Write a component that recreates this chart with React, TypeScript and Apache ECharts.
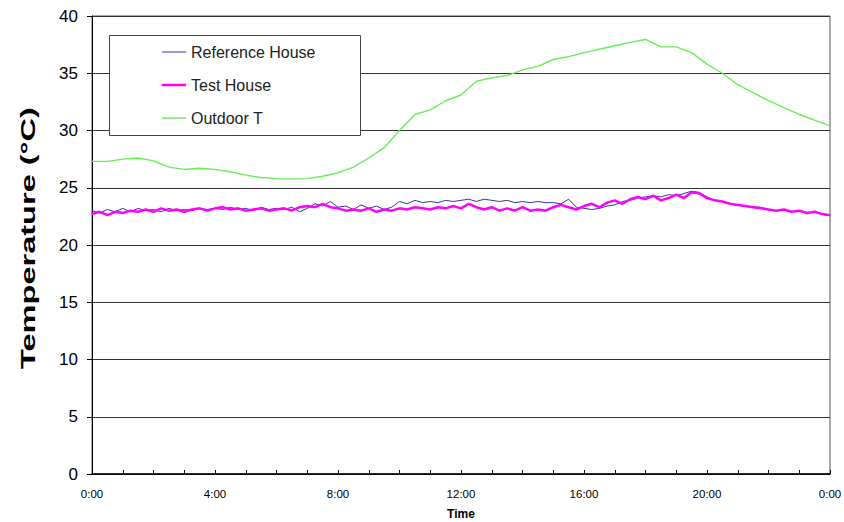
import React, { useEffect, useRef } from "react";
import * as echarts from "echarts";

// Reference House, every 15 minutes from 0:00 to 24:00 (grouped by hour)
const referenceHouse: number[] = [
  23.0, 22.8, 23.1, 22.9,
  23.2, 22.9, 23.2, 23.0,
  23.1, 22.9, 23.2, 23.0,
  23.1, 23.0, 23.2, 23.1,
  23.2, 23.1, 23.3, 23.1,
  23.2, 23.0, 23.3, 23.1,
  23.2, 23.1, 23.3, 22.9,
  23.2, 23.6, 23.4, 23.8,
  23.3, 23.4, 23.1, 23.5,
  23.2, 23.4, 23.1, 23.3,
  23.8, 23.6, 23.9, 23.7,
  23.8, 23.7, 23.9, 23.8,
  23.9, 24.0, 23.8, 24.0,
  23.9, 23.8, 23.9, 23.7,
  23.8, 23.7, 23.8, 23.7,
  23.7, 23.6, 24.0, 23.3,
  23.2, 23.1, 23.2, 23.4,
  23.5, 23.8, 23.9, 24.1,
  24.2, 24.3, 24.2, 24.4,
  24.3, 24.5, 24.7, 24.6,
  24.2, 23.9, 23.8, 23.6,
  23.5, 23.4, 23.3, 23.3,
  23.1, 23.0, 23.1, 22.9,
  23.0, 22.8, 22.9, 22.7,
  22.6,
];

// Test House, every 15 minutes
const testHouse: number[] = [
  22.7, 22.9, 22.6, 22.9,
  22.8, 23.0, 22.9, 23.1,
  22.9, 23.2, 23.0, 23.1,
  22.9, 23.1, 23.2, 23.0,
  23.2, 23.3, 23.1, 23.2,
  23.0, 23.1, 23.2, 23.0,
  23.1, 23.2, 23.0, 23.3,
  23.4, 23.3, 23.6, 23.3,
  23.2, 23.0, 23.1, 23.0,
  23.2, 22.9, 23.1, 23.0,
  23.2, 23.1, 23.3, 23.2,
  23.1, 23.3, 23.2, 23.4,
  23.2, 23.6, 23.3, 23.1,
  23.3, 23.0, 23.2, 23.0,
  23.3, 23.0, 23.1, 23.0,
  23.3, 23.5, 23.3, 23.1,
  23.4, 23.6, 23.3, 23.7,
  23.9, 23.6, 24.0, 24.2,
  24.0, 24.3, 23.9, 24.1,
  24.4, 24.1, 24.6, 24.5,
  24.1, 23.9, 23.8, 23.6,
  23.5, 23.4, 23.3, 23.2,
  23.1, 23.0, 23.1, 22.9,
  23.0, 22.8, 22.9, 22.7,
  22.6,
];

// Outdoor T, every 30 minutes
const outdoorT: number[] = [
  27.3, 27.3, 27.5, 27.6, 27.35, 26.8, 26.6, 26.7,
  26.6, 26.4, 26.1, 25.9, 25.8, 25.75, 25.8, 26.0,
  26.3, 26.8, 27.6, 28.5, 30.0, 31.4, 31.8, 32.6,
  33.1, 34.3, 34.6, 34.8, 35.3, 35.6, 36.2, 36.45,
  36.8, 37.1, 37.4, 37.7, 37.95, 37.3, 37.3, 36.8,
  35.8, 35.0, 34.0, 33.3, 32.6, 32.0, 31.4, 30.9,
  30.4,
];

const seriesNames = ["Reference House", "Test House", "Outdoor T"];
const xLabelHours = [0, 4, 8, 12, 16, 20, 24];
const yAxisTitle = "Temperature (°C)";
const xAxisTitle = "Time";

const FONT = "Arial, 'Liberation Sans', sans-serif";
const colors = ["#34349c", "#ff00ff", "#66ee55"];
const widths = [1, 2.5, 1.4];

const toPairs = (vals: number[], stepHours: number) =>
  vals.map((v, i) => [i * stepHours, v]);

export default function App() {
  const ref = useRef<HTMLDivElement>(null);

  useEffect(() => {
    if (!ref.current) return;
    const chart = echarts.init(ref.current, undefined, { renderer: "svg" });
    chart.setOption({
      animation: false,
      backgroundColor: "#ffffff",
      grid: {
        left: 92,
        right: 14,
        top: 16,
        bottom: 48,
        containLabel: false,
        outerBoundsMode: "none",
        show: true,
        borderColor: "#555",
        borderWidth: 1,
        backgroundColor: "transparent",
      },
      legend: {
        orient: "vertical",
        left: 157,
        top: 39,
        itemGap: 17,
        itemWidth: 24,
        itemHeight: 14,
        z: 10,
        data: seriesNames.map((name, i) => ({
          name,
          icon: `path://M0,0H24V${widths[i]}H0Z`,
        })),
        textStyle: { fontSize: 16, color: "#222", fontFamily: FONT },
      },
      graphic: [
        {
          type: "rect",
          z: 5,
          shape: { x: 109.5, y: 35.5, width: 251, height: 100 },
          style: { fill: "#fff", stroke: "#444", lineWidth: 1 },
        },
        {
          type: "text",
          z: 5,
          x: 28,
          y: 238,
          rotation: Math.PI / 2,
          scaleX: 1.55,
          style: {
            text: yAxisTitle,
            font: `bold 21px ${FONT}`,
            fill: "#000",
            textAlign: "center",
            textVerticalAlign: "middle",
          },
        },
      ],
      xAxis: {
        type: "value",
        min: 0,
        max: 24,
        interval: 1,
        name: xAxisTitle,
        nameLocation: "middle",
        nameGap: 34,
        nameTextStyle: { fontSize: 12, fontWeight: "bold", color: "#000", fontFamily: FONT },
        axisLine: { show: true, onZero: false, lineStyle: { color: "#000", width: 1.5 } },
        axisTick: { show: true, inside: true, length: 4, lineStyle: { color: "#000" } },
        splitLine: { show: false },
        axisLabel: {
          fontSize: 11.5,
          color: "#000",
          fontFamily: FONT,
          margin: 14,
          showMinLabel: true,
          showMaxLabel: true,
          formatter: (v: number) =>
            xLabelHours.includes(v) ? `${v % 24}:00` : "",
        },
      },
      yAxis: {
        type: "value",
        min: 0,
        max: 40,
        interval: 5,
        axisLine: { show: true, lineStyle: { color: "#000", width: 1 } },
        axisTick: { show: true, inside: false, length: 5, lineStyle: { color: "#000" } },
        splitLine: { show: true, lineStyle: { color: "#333", width: 1 } },
        axisLabel: { fontSize: 17, color: "#000", fontFamily: FONT, margin: 14 },
      },
      series: seriesNames.map((name, i) => ({
        name,
        type: "line",
        symbol: "none",
        showSymbol: false,
        data:
          i === 0
            ? toPairs(referenceHouse, 0.25)
            : i === 1
            ? toPairs(testHouse, 0.25)
            : toPairs(outdoorT, 0.5),
        lineStyle: { color: colors[i], width: widths[i] },
        itemStyle: { color: colors[i] },
        z: i === 1 ? 4 : 3,
      })),
    });
    return () => chart.dispose();
  }, []);

  return (
    <div
      ref={ref}
      style={{ position: "fixed", left: 0, top: 0, width: 844, height: 522 }}
    />
  );
}
